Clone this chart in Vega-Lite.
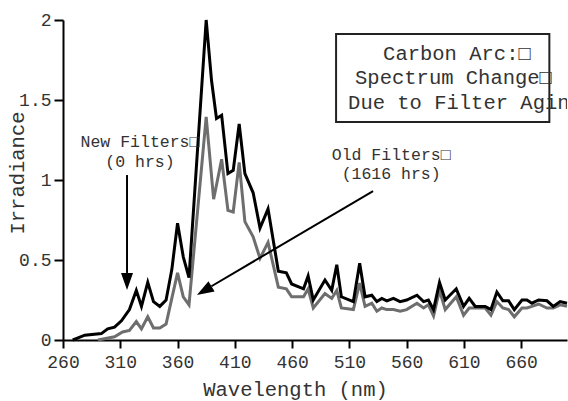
{
  "$schema": "https://vega.github.io/schema/vega-lite/v6.json",
  "width": 504,
  "height": 320,
  "autosize": {"type": "none"},
  "padding": {"left": 63, "top": 20, "right": 1, "bottom": 61},
  "background": "white",
  "config": {
    "view": {"stroke": null},
    "font": "Liberation Mono",
    "axis": {
      "domainColor": "#000000",
      "domainWidth": 2,
      "tickColor": "#000000",
      "tickWidth": 2,
      "grid": false,
      "labelFont": "Liberation Mono",
      "labelFontSize": 18,
      "labelColor": "#333333",
      "titleFont": "Liberation Mono",
      "titleFontSize": 20.5,
      "titleFontWeight": "normal",
      "titleColor": "#333333"
    }
  },
  "datasets": {
    "spectra": [
      {"series": "New", "wavelength": 268.5, "irradiance": 0},
      {"series": "New", "wavelength": 272, "irradiance": 0.01},
      {"series": "New", "wavelength": 279, "irradiance": 0.03},
      {"series": "New", "wavelength": 293.5, "irradiance": 0.04},
      {"series": "New", "wavelength": 299, "irradiance": 0.07},
      {"series": "New", "wavelength": 305, "irradiance": 0.08},
      {"series": "New", "wavelength": 311, "irradiance": 0.12},
      {"series": "New", "wavelength": 318, "irradiance": 0.19},
      {"series": "New", "wavelength": 324, "irradiance": 0.31},
      {"series": "New", "wavelength": 328.5, "irradiance": 0.21},
      {"series": "New", "wavelength": 334, "irradiance": 0.36},
      {"series": "New", "wavelength": 339, "irradiance": 0.24},
      {"series": "New", "wavelength": 344.5, "irradiance": 0.21},
      {"series": "New", "wavelength": 350, "irradiance": 0.25},
      {"series": "New", "wavelength": 355, "irradiance": 0.44},
      {"series": "New", "wavelength": 360, "irradiance": 0.73},
      {"series": "New", "wavelength": 365, "irradiance": 0.52},
      {"series": "New", "wavelength": 370, "irradiance": 0.39},
      {"series": "New", "wavelength": 385, "irradiance": 2.0},
      {"series": "New", "wavelength": 389.7, "irradiance": 1.62},
      {"series": "New", "wavelength": 394, "irradiance": 1.385},
      {"series": "New", "wavelength": 398.5, "irradiance": 1.405},
      {"series": "New", "wavelength": 404, "irradiance": 1.04},
      {"series": "New", "wavelength": 408.6, "irradiance": 1.06},
      {"series": "New", "wavelength": 413.8, "irradiance": 1.35},
      {"series": "New", "wavelength": 418.8, "irradiance": 1.04},
      {"series": "New", "wavelength": 426, "irradiance": 0.92},
      {"series": "New", "wavelength": 432, "irradiance": 0.7},
      {"series": "New", "wavelength": 439, "irradiance": 0.82},
      {"series": "New", "wavelength": 448, "irradiance": 0.43},
      {"series": "New", "wavelength": 455, "irradiance": 0.42},
      {"series": "New", "wavelength": 459.6, "irradiance": 0.35},
      {"series": "New", "wavelength": 470, "irradiance": 0.32},
      {"series": "New", "wavelength": 474, "irradiance": 0.4},
      {"series": "New", "wavelength": 478.5, "irradiance": 0.25},
      {"series": "New", "wavelength": 488.7, "irradiance": 0.375},
      {"series": "New", "wavelength": 494.6, "irradiance": 0.31},
      {"series": "New", "wavelength": 499, "irradiance": 0.47},
      {"series": "New", "wavelength": 503, "irradiance": 0.27},
      {"series": "New", "wavelength": 513.5, "irradiance": 0.24},
      {"series": "New", "wavelength": 519, "irradiance": 0.48},
      {"series": "New", "wavelength": 523.7, "irradiance": 0.27},
      {"series": "New", "wavelength": 529.6, "irradiance": 0.28},
      {"series": "New", "wavelength": 534, "irradiance": 0.24},
      {"series": "New", "wavelength": 538.3, "irradiance": 0.26},
      {"series": "New", "wavelength": 542.7, "irradiance": 0.245},
      {"series": "New", "wavelength": 548.5, "irradiance": 0.26},
      {"series": "New", "wavelength": 554.3, "irradiance": 0.24},
      {"series": "New", "wavelength": 560, "irradiance": 0.25},
      {"series": "New", "wavelength": 569, "irradiance": 0.28},
      {"series": "New", "wavelength": 574.8, "irradiance": 0.24},
      {"series": "New", "wavelength": 579, "irradiance": 0.25},
      {"series": "New", "wavelength": 583.5, "irradiance": 0.19},
      {"series": "New", "wavelength": 588.7, "irradiance": 0.36},
      {"series": "New", "wavelength": 593.7, "irradiance": 0.25},
      {"series": "New", "wavelength": 603.3, "irradiance": 0.32},
      {"series": "New", "wavelength": 609.7, "irradiance": 0.21},
      {"series": "New", "wavelength": 614.6, "irradiance": 0.26},
      {"series": "New", "wavelength": 619.9, "irradiance": 0.21},
      {"series": "New", "wavelength": 628.6, "irradiance": 0.21},
      {"series": "New", "wavelength": 633.6, "irradiance": 0.19},
      {"series": "New", "wavelength": 638.8, "irradiance": 0.3},
      {"series": "New", "wavelength": 644, "irradiance": 0.245},
      {"series": "New", "wavelength": 649, "irradiance": 0.245},
      {"series": "New", "wavelength": 654, "irradiance": 0.19},
      {"series": "New", "wavelength": 660.7, "irradiance": 0.25},
      {"series": "New", "wavelength": 665, "irradiance": 0.25},
      {"series": "New", "wavelength": 669.4, "irradiance": 0.23},
      {"series": "New", "wavelength": 675.2, "irradiance": 0.25},
      {"series": "New", "wavelength": 682.5, "irradiance": 0.245},
      {"series": "New", "wavelength": 688, "irradiance": 0.21},
      {"series": "New", "wavelength": 694, "irradiance": 0.24},
      {"series": "New", "wavelength": 700, "irradiance": 0.23},
      {"series": "Old", "wavelength": 290.5, "irradiance": 0},
      {"series": "Old", "wavelength": 305, "irradiance": 0.02},
      {"series": "Old", "wavelength": 312, "irradiance": 0.05},
      {"series": "Old", "wavelength": 318, "irradiance": 0.06},
      {"series": "Old", "wavelength": 324, "irradiance": 0.115},
      {"series": "Old", "wavelength": 328.5, "irradiance": 0.07},
      {"series": "Old", "wavelength": 334, "irradiance": 0.145},
      {"series": "Old", "wavelength": 339, "irradiance": 0.075},
      {"series": "Old", "wavelength": 344.5, "irradiance": 0.075},
      {"series": "Old", "wavelength": 350, "irradiance": 0.1},
      {"series": "Old", "wavelength": 355, "irradiance": 0.26},
      {"series": "Old", "wavelength": 360, "irradiance": 0.42},
      {"series": "Old", "wavelength": 365, "irradiance": 0.27},
      {"series": "Old", "wavelength": 370, "irradiance": 0.22},
      {"series": "Old", "wavelength": 385, "irradiance": 1.395},
      {"series": "Old", "wavelength": 391.5, "irradiance": 0.88},
      {"series": "Old", "wavelength": 398.5, "irradiance": 1.13},
      {"series": "Old", "wavelength": 404, "irradiance": 0.81},
      {"series": "Old", "wavelength": 408.6, "irradiance": 0.8},
      {"series": "Old", "wavelength": 413.8, "irradiance": 1.11},
      {"series": "Old", "wavelength": 418.8, "irradiance": 0.74},
      {"series": "Old", "wavelength": 426, "irradiance": 0.645},
      {"series": "Old", "wavelength": 432, "irradiance": 0.51},
      {"series": "Old", "wavelength": 439, "irradiance": 0.61},
      {"series": "Old", "wavelength": 448, "irradiance": 0.33},
      {"series": "Old", "wavelength": 455, "irradiance": 0.32},
      {"series": "Old", "wavelength": 459.6, "irradiance": 0.27},
      {"series": "Old", "wavelength": 470, "irradiance": 0.27},
      {"series": "Old", "wavelength": 474, "irradiance": 0.32},
      {"series": "Old", "wavelength": 478.5, "irradiance": 0.2},
      {"series": "Old", "wavelength": 488.7, "irradiance": 0.29},
      {"series": "Old", "wavelength": 494.6, "irradiance": 0.26},
      {"series": "Old", "wavelength": 499, "irradiance": 0.31},
      {"series": "Old", "wavelength": 503, "irradiance": 0.2},
      {"series": "Old", "wavelength": 513.5, "irradiance": 0.19},
      {"series": "Old", "wavelength": 519, "irradiance": 0.355},
      {"series": "Old", "wavelength": 523.7, "irradiance": 0.21},
      {"series": "Old", "wavelength": 529.6, "irradiance": 0.23},
      {"series": "Old", "wavelength": 534, "irradiance": 0.18},
      {"series": "Old", "wavelength": 538.3, "irradiance": 0.2},
      {"series": "Old", "wavelength": 542.7, "irradiance": 0.19},
      {"series": "Old", "wavelength": 548.5, "irradiance": 0.19},
      {"series": "Old", "wavelength": 554.3, "irradiance": 0.18},
      {"series": "Old", "wavelength": 560, "irradiance": 0.19},
      {"series": "Old", "wavelength": 569, "irradiance": 0.23},
      {"series": "Old", "wavelength": 574.8, "irradiance": 0.2},
      {"series": "Old", "wavelength": 579, "irradiance": 0.22},
      {"series": "Old", "wavelength": 583.5, "irradiance": 0.15},
      {"series": "Old", "wavelength": 588.7, "irradiance": 0.31},
      {"series": "Old", "wavelength": 593.7, "irradiance": 0.19},
      {"series": "Old", "wavelength": 603.3, "irradiance": 0.27},
      {"series": "Old", "wavelength": 609.7, "irradiance": 0.155},
      {"series": "Old", "wavelength": 614.6, "irradiance": 0.2},
      {"series": "Old", "wavelength": 619.9, "irradiance": 0.2},
      {"series": "Old", "wavelength": 628.6, "irradiance": 0.2},
      {"series": "Old", "wavelength": 633.6, "irradiance": 0.155},
      {"series": "Old", "wavelength": 638.8, "irradiance": 0.24},
      {"series": "Old", "wavelength": 644, "irradiance": 0.2},
      {"series": "Old", "wavelength": 649, "irradiance": 0.19},
      {"series": "Old", "wavelength": 654, "irradiance": 0.145},
      {"series": "Old", "wavelength": 660.7, "irradiance": 0.2},
      {"series": "Old", "wavelength": 665, "irradiance": 0.2},
      {"series": "Old", "wavelength": 669.4, "irradiance": 0.21},
      {"series": "Old", "wavelength": 675.2, "irradiance": 0.225},
      {"series": "Old", "wavelength": 682.5, "irradiance": 0.2},
      {"series": "Old", "wavelength": 688, "irradiance": 0.2},
      {"series": "Old", "wavelength": 694, "irradiance": 0.22},
      {"series": "Old", "wavelength": 700, "irradiance": 0.21}
    ]
  },
  "layer": [
    {
      "data": {"name": "spectra"},
      "transform": [{"filter": "datum.series == 'Old'"}],
      "mark": {"type": "line", "color": "#6e6e6e", "strokeWidth": 3, "strokeJoin": "miter"},
      "encoding": {
        "x": {
          "field": "wavelength", "type": "quantitative",
          "scale": {"domain": [260, 700], "nice": false, "zero": false},
          "axis": {
            "values": [260, 310, 360, 410, 460, 510, 560, 610, 660],
            "title": "Wavelength (nm)",
            "tickSize": 8, "labelPadding": 5, "labelFlush": false, "labelOverlap": false,
            "titleX": 232, "titleY": 55, "titleAlign": "center", "titleBaseline": "alphabetic"
          }
        },
        "y": {
          "field": "irradiance", "type": "quantitative",
          "scale": {"domain": [0, 2], "nice": false},
          "axis": {
            "values": [0, 0.5, 1, 1.5, 2], "format": "~g",
            "title": "Irradiance",
            "tickSize": 9, "labelPadding": 3, "labelOverlap": false,
            "titleX": -40, "titleY": 152.5, "titleAngle": -90, "titleAlign": "center", "titleBaseline": "alphabetic"
          }
        }
      }
    },
    {
      "data": {"name": "spectra"},
      "transform": [{"filter": "datum.series == 'New'"}],
      "mark": {"type": "line", "color": "#000000", "strokeWidth": 3, "strokeJoin": "miter"},
      "encoding": {
        "x": {"field": "wavelength", "type": "quantitative"},
        "y": {"field": "irradiance", "type": "quantitative"}
      }
    },
    {
      "data": {"values": [{}]},
      "mark": {"type": "rect", "filled": false, "stroke": "#222222", "strokeWidth": 2},
      "encoding": {
        "x": {"datum": 498.4, "type": "quantitative"},
        "x2": {"datum": 684.6},
        "y": {"datum": 1.9125, "type": "quantitative"},
        "y2": {"datum": 1.3625}
      }
    },
    {
      "data": {"values": [{}]},
      "mark": {"type": "text", "text": "Carbon Arc:□", "align": "center", "baseline": "alphabetic", "font": "Liberation Mono", "fontSize": 20.5, "color": "#333333"},
      "encoding": {
        "x": {"datum": 603.9, "type": "quantitative"},
        "y": {"datum": 1.75, "type": "quantitative"}
      }
    },
    {
      "data": {"values": [{}]},
      "mark": {"type": "text", "text": "Spectrum Change□", "align": "center", "baseline": "alphabetic", "font": "Liberation Mono", "fontSize": 20.5, "color": "#333333"},
      "encoding": {
        "x": {"datum": 600.9, "type": "quantitative"},
        "y": {"datum": 1.597, "type": "quantitative"}
      }
    },
    {
      "data": {"values": [{}]},
      "mark": {"type": "text", "text": "Due to Filter Aging□", "align": "left", "baseline": "alphabetic", "font": "Liberation Mono", "fontSize": 20.5, "color": "#333333", "clip": true},
      "encoding": {
        "x": {"datum": 508.9, "type": "quantitative"},
        "y": {"datum": 1.444, "type": "quantitative"}
      }
    },
    {
      "data": {"values": [{}]},
      "mark": {"type": "text", "text": ["New Filters□", "(0 hrs)"], "lineHeight": 19.5, "align": "center", "baseline": "alphabetic", "font": "Liberation Mono", "fontSize": 16.5, "color": "#333333"},
      "encoding": {
        "x": {"datum": 327.2, "type": "quantitative"},
        "y": {"datum": 1.206, "type": "quantitative"}
      }
    },
    {
      "data": {"values": [{}]},
      "mark": {"type": "text", "text": ["Old Filters□", "(1616 hrs)"], "lineHeight": 19, "align": "center", "baseline": "alphabetic", "font": "Liberation Mono", "fontSize": 16.5, "color": "#333333"},
      "encoding": {
        "x": {"datum": 546.5, "type": "quantitative"},
        "y": {"datum": 1.125, "type": "quantitative"}
      }
    },
    {
      "data": {"values": [{}]},
      "mark": {"type": "rule", "color": "#000000", "strokeWidth": 2},
      "encoding": {
        "x": {"datum": 315.9, "type": "quantitative"},
        "y": {"datum": 1.031, "type": "quantitative"},
        "y2": {"datum": 0.419}
      }
    },
    {
      "data": {"values": [{}]},
      "mark": {"type": "rule", "color": "#000000", "strokeWidth": 2},
      "encoding": {
        "x": {"datum": 530.7, "type": "quantitative"},
        "x2": {"datum": 389.6},
        "y": {"datum": 0.931, "type": "quantitative"},
        "y2": {"datum": 0.336}
      }
    },
    {
      "data": {"values": [{}]},
      "mark": {"type": "point", "shape": "M0,0L-0.6,-1.7L0.6,-1.7Z", "size": 400, "filled": true, "color": "#000000", "opacity": 1, "strokeWidth": 0, "angle": 0},
      "encoding": {
        "x": {"datum": 315.9, "type": "quantitative"},
        "y": {"datum": 0.3125, "type": "quantitative"}
      }
    },
    {
      "data": {"values": [{}]},
      "mark": {"type": "point", "shape": "M0,0L-0.6,-1.7L0.6,-1.7Z", "size": 400, "filled": true, "color": "#000000", "opacity": 1, "strokeWidth": 0, "angle": 59.4},
      "encoding": {
        "x": {"datum": 376.9, "type": "quantitative"},
        "y": {"datum": 0.281, "type": "quantitative"}
      }
    }
  ]
}
